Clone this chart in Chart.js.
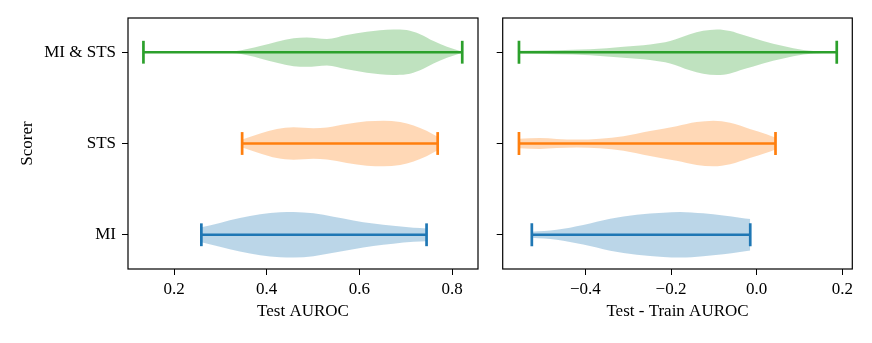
<!DOCTYPE html>
<html><head><meta charset="utf-8">
<script src="https://cdn.jsdelivr.net/npm/chart.js@4.4.1/dist/chart.umd.min.js"></script>
<style>
html,body{margin:0;padding:0;background:#fff;}
#wrap{position:relative;width:872px;height:343px;overflow:hidden;background:#fff;}
canvas{position:absolute;top:0;}
</style></head><body>
<div id="wrap">
<canvas id="c1" width="480" height="343" style="left:0px"></canvas>
<canvas id="c2" width="392" height="343" style="left:480px"></canvas>
</div>
<script>
// ---- data ----
const scorers = ['MI', 'STS', 'MI & STS'];
const leftTicks = [0.2, 0.4, 0.6, 0.8];
const rightTicks = [-0.4, -0.2, 0.0, 0.2];

// Test AUROC violins: positions and relative density (1 = widest)
const testMI_x  = [0.259,0.299,0.342,0.386,0.429,0.458,0.501,0.544,0.587,0.630,0.673,0.717,0.745];
const testMI_w  = [0.33,0.52,0.73,0.90,0.99,1.00,0.94,0.79,0.63,0.49,0.39,0.31,0.28];
const testSTS_x = [0.347,0.386,0.422,0.458,0.501,0.530,0.573,0.616,0.652,0.688,0.717,0.745,0.769];
const testSTS_w = [0.18,0.44,0.64,0.71,0.67,0.70,0.85,0.97,1.00,0.94,0.79,0.56,0.30];
const testBoth_x = [0.134,0.200,0.260,0.300,0.335,0.386,0.422,0.458,0.486,0.530,0.573,0.616,0.673,0.702,0.731,0.760,0.789,0.822];
const testBoth_w = [0.01,0.01,0.01,0.02,0.05,0.27,0.46,0.61,0.64,0.58,0.75,0.90,1.00,0.97,0.79,0.49,0.24,0.02];

// Test - Train AUROC violins
const gapMI_x  = [-0.525,-0.467,-0.405,-0.342,-0.280,-0.218,-0.179,-0.125,-0.078,-0.039,-0.015];
const gapMI_w  = [0.13,0.22,0.43,0.70,0.88,0.97,1.00,0.94,0.85,0.75,0.69];
const gapSTS_x = [-0.555,-0.506,-0.467,-0.420,-0.366,-0.311,-0.249,-0.187,-0.140,-0.101,-0.062,-0.016,0.023,0.044];
const gapSTS_w = [0.21,0.24,0.20,0.17,0.21,0.32,0.55,0.76,0.94,1.00,0.91,0.64,0.41,0.26];
const gapBoth_x = [-0.555,-0.467,-0.389,-0.311,-0.249,-0.202,-0.156,-0.125,-0.093,-0.062,-0.031,0.015,0.062,0.109,0.155,0.187];
const gapBoth_w = [0.06,0.09,0.13,0.24,0.34,0.49,0.79,0.94,1.00,0.93,0.75,0.49,0.27,0.10,0.03,0.015];

// ---- style ----
const COLORS = ['#1f77b4', '#ff7f0e', '#2ca02c'];
const FILLS = ['rgba(31,119,180,0.3)', 'rgba(255,127,14,0.3)', 'rgba(44,160,44,0.3)'];
const HALF = 0.25, CAP = 0.125, LW = 2.7;
const FONT = {family: "'Liberation Serif', 'Times New Roman', serif", size: 17};

function violin(xs, ws, idx) {
  const c = idx + 1;
  const up = xs.map((x, i) => ({x: x, y: c + HALF * ws[i]}));
  const lo = xs.map((x, i) => ({x: x, y: c - HALF * ws[i]}));
  const x0 = xs[0], x1 = xs[xs.length - 1];
  const line = (data) => ({data, borderColor: COLORS[idx], borderWidth: LW, pointRadius: 0, fill: false, tension: 0, borderCapStyle: 'butt', order: 0});
  return [
    {data: up, borderColor: 'transparent', borderWidth: 0, pointRadius: 0, fill: false, cubicInterpolationMode: 'monotone', order: 5},
    {data: lo, borderColor: 'transparent', borderWidth: 0, pointRadius: 0, fill: '-1', backgroundColor: FILLS[idx], cubicInterpolationMode: 'monotone', order: 5},
    line([{x: x0, y: c}, {x: x1, y: c}]),
    line([{x: x0, y: c - CAP}, {x: x0, y: c + CAP}]),
    line([{x: x1, y: c - CAP}, {x: x1, y: c + CAP}])
  ];
}

const frame = {
  id: 'frame',
  afterDraw(chart) {
    const {ctx, chartArea: a} = chart;
    ctx.save();
    ctx.strokeStyle = '#000';
    ctx.lineWidth = 1.2;
    ctx.strokeRect(a.left, a.top, a.right - a.left, a.bottom - a.top);
    ctx.restore();
  }
};

const fmt = v => v.toFixed(1).replace('-', '\u2212');

function makeChart(id, sets, xmin, xmax, xticks, xtitle, showY, yWidth, padRight) {
  const datasets = [];
  sets.forEach((s, i) => datasets.push(...violin(s[0], s[1], i)));
  const grid = {drawOnChartArea: false, drawTicks: true, tickLength: 6, tickWidth: 1, tickColor: '#000'};
  return new Chart(document.getElementById(id), {
    type: 'line',
    data: {datasets},
    options: {
      responsive: false, animation: false, devicePixelRatio: 1,
      layout: {padding: {left: 0, right: padRight, top: 18, bottom: 0}},
      plugins: {legend: {display: false}, tooltip: {enabled: false}},
      scales: {
        x: {
          type: 'linear', min: xmin, max: xmax,
          afterBuildTicks: s => { s.ticks = xticks.map(v => ({value: v})); },
          afterFit: s => { s.height = 74; },
          ticks: {callback: v => fmt(v), font: FONT, color: '#000', padding: 4, maxRotation: 0, autoSkip: false},
          grid, border: {display: false},
          title: {display: true, text: xtitle, font: FONT, color: '#000', padding: {top: 0, bottom: 20.8}}
        },
        y: {
          type: 'linear', min: 0.625, max: 3.375,
          afterBuildTicks: s => { s.ticks = [1, 2, 3].map(v => ({value: v})); },
          afterFit: s => { s.width = yWidth; },
          ticks: {callback: v => showY ? scorers[Math.round(v) - 1] : '', font: FONT, color: '#000', padding: 6, autoSkip: false},
          grid, border: {display: false},
          title: {display: showY, text: 'Scorer', font: FONT, color: '#000', padding: {top: 17.4, bottom: 0}}
        }
      }
    },
    plugins: [frame]
  });
}

makeChart('c1', [[testMI_x, testMI_w], [testSTS_x, testSTS_w], [testBoth_x, testBoth_w]],
  0.1007, 0.856, leftTicks, 'Test AUROC', true, 128, 2);
makeChart('c2', [[gapMI_x, gapMI_w], [gapSTS_x, gapSTS_w], [gapBoth_x, gapBoth_w]],
  -0.593, 0.2233, rightTicks, 'Test - Train AUROC', false, 22.7, 19.7);
</script>
</body></html>
